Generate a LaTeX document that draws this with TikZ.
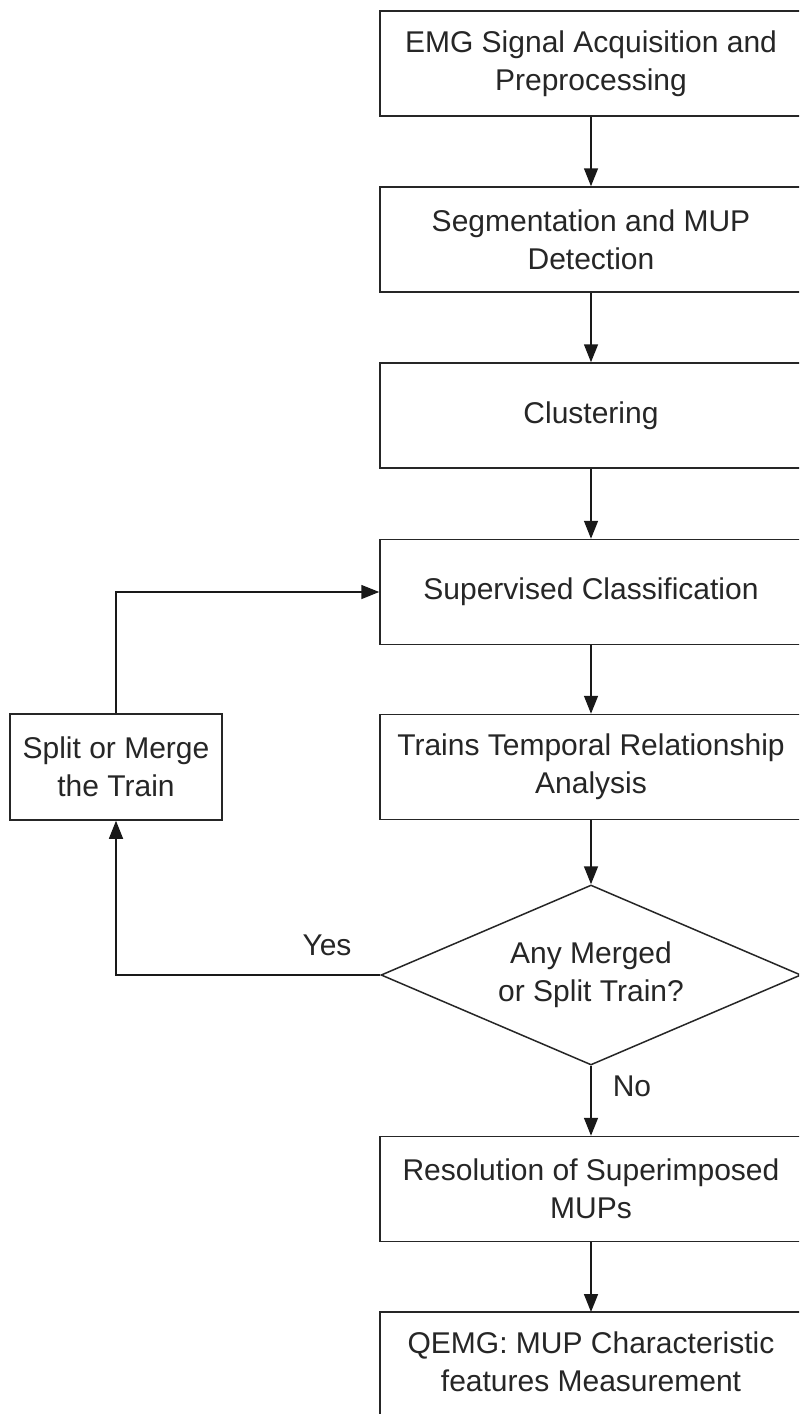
\documentclass[tikz,border=0pt]{standalone}
\usepackage{fontspec}
\setmainfont{Liberation Sans}
\usetikzlibrary{arrows.meta,shapes.geometric}
\begin{document}
\begin{tikzpicture}[x=0.5pt,y=-0.5pt,
  txt/.style={font=\fontsize{15}{19}\selectfont, text=black!85, align=center},
  box/.style={txt, draw=black!85, line width=0.75pt, rectangle, inner sep=0pt,
              minimum width=211pt, minimum height=52.5pt},
  decision/.style={txt, draw=black!85, line width=0.75pt, diamond, inner sep=0pt,
              aspect=2.33, minimum width=210pt, minimum height=90pt},
  flow/.style={draw=black!90, line width=0.75pt, -{Triangle[length=9pt,width=7pt]}},
  lbl/.style={txt}]
  \fill[white] (0,0) rectangle (799,1414);
  \clip (0,0) rectangle (799,1414);

  % main chain
  \node[box] (acq)   at (591,63.5)  {EMG Signal Acquisition and\\Preprocessing};
  \node[box] (seg)   at (591,239.5) {Segmentation and MUP\\Detection};
  \node[box] (clu)   at (591,415.5) {Clustering};
  \node[box] (sup)   at (591,592)   {Supervised Classification};
  \node[box] (trn)   at (591,767)   {Trains Temporal Relationship\\Analysis};
  \node[decision] (dec) at (591,975) {Any Merged\\or Split Train?};
  \node[box] (res)   at (591,1189)  {Resolution of Superimposed\\MUPs};

  % last step (box runs past the lower edge)
  \coordinate (qtop) at (591,1312);
  \draw[draw=black!85, line width=0.75pt] (380,1430) |- (802,1312) -- (802,1430);
  \node[txt] (qemg) at (591,1362) {QEMG: MUP Characteristic\\features Measurement};

  % feedback step
  \node[box, minimum width=106pt, minimum height=53pt] (spl) at (116,767) {Split or Merge\\the Train};

  % connectors
  \draw[flow] (acq) -- (seg);
  \draw[flow] (seg) -- (clu);
  \draw[flow] (clu) -- (sup);
  \draw[flow] (sup) -- (trn);
  \draw[flow] (trn) -- (dec);
  \draw[flow] (dec) -- (res);
  \draw[flow] (res.south) -- (qtop);
  \draw[flow] (dec.west) -| (spl.south);
  \draw[flow] (spl.north) |- (sup.west);

  % branch labels
  \node[lbl] (yes) at (327,945) {Yes};
  \node[lbl] (no)  at (632,1086) {No};
\end{tikzpicture}
\end{document}
